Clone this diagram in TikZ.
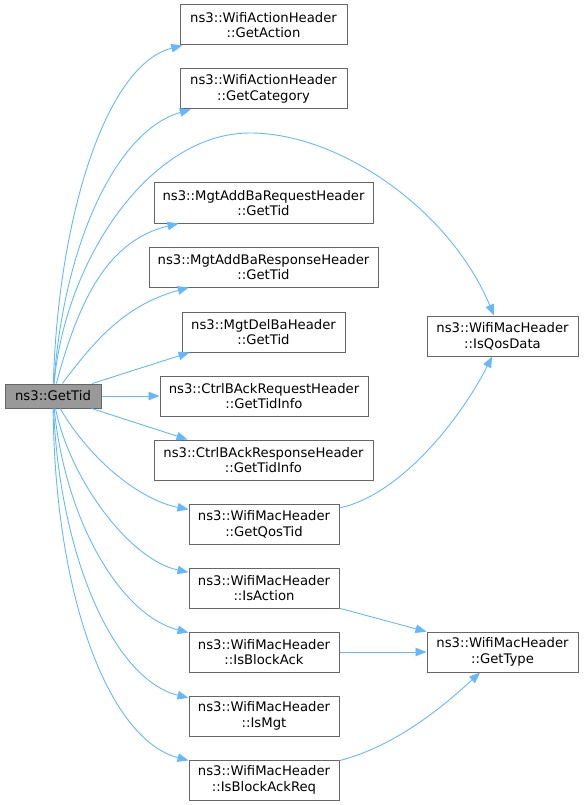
\documentclass[tikz,border=0pt]{standalone}
\usepackage{fontspec}
\setmainfont{DejaVu Sans}
\usetikzlibrary{arrows.meta}
\definecolor{callblue}{HTML}{63B8FF}
\definecolor{boxgray}{HTML}{666666}

\begin{document}
\begin{tikzpicture}[x=1pt,y=-1pt,
  font=\fontsize{13.2}{15.8}\selectfont,
  func/.style={draw=boxgray,line width=1pt,fill=white,align=center,
    inner sep=0pt,minimum height=40pt},
  root/.style={func,fill=black!40,minimum height=24pt},
  call/.style={draw=callblue,line width=.9pt,
    -{Triangle[length=11pt,width=8.5pt]}}]
 \useasboundingbox (0,0) rectangle (584,805);
 % callees of GetTid
 \node[root,minimum width=96pt] (tid) at (53,396) {ns3::GetTid};
 \node[func,minimum width=167pt] (act) at (263.5,25)
   {ns3::WifiActionHeader\\::GetAction};
 \node[func,minimum width=167pt] (cat) at (263.5,89)
   {ns3::WifiActionHeader\\::GetCategory};
 \node[func,minimum width=219pt] (req) at (263.5,203)
   {ns3::MgtAddBaRequestHeader\\::GetTid};
 \node[func,minimum width=229pt] (resp) at (263.5,267)
   {ns3::MgtAddBaResponseHeader\\::GetTid};
 \node[func,minimum width=163pt] (delba) at (263.5,332)
   {ns3::MgtDelBaHeader\\::GetTid};
 \node[func,minimum width=208pt] (bareq) at (264,396)
   {ns3::CtrlBAckRequestHeader\\::GetTidInfo};
 \node[func,minimum width=219pt] (baresp) at (263.5,460)
   {ns3::CtrlBAckResponseHeader\\::GetTidInfo};
 \foreach \nm/\fn/\yy in {qostid/GetQosTid/524,isact/IsAction/588,
   isba/IsBlockAck/652,ismgt/IsMgt/716,isbar/IsBlockAckReq/780}
   \node[func,minimum width=150pt] (\nm) at (264,\yy)
     {ns3::WifiMacHeader\\::\fn};
 \node[func,minimum width=151pt] (qosdata) at (502.5,336)
   {ns3::WifiMacHeader\\::IsQosData};
 \node[func,minimum width=151pt] (gettype) at (502.5,652)
   {ns3::WifiMacHeader\\::GetType};
 % edges
 \draw[call] (tid) .. controls (58,220) and (105,65) .. (act);
 \draw[call] (tid) .. controls (64,240) and (118,130) .. (cat);
 \draw[call] (tid) .. controls (65,260) and (150,133) .. (250,133)
   .. controls (340,133) and (450,210) .. (qosdata);
 \draw[call] (tid) .. controls (80,295) and (110,240) .. (req);
 \draw[call] (tid) .. controls (95,340) and (125,305) .. (resp);
 \draw[call] (tid) -- ([xshift=8pt]delba.south west);
 \draw[call] (tid) -- (bareq);
 \draw[call] (tid) -- ([xshift=34pt]baresp.north west);
 \draw[call] (tid) .. controls (90,460) and (140,500) .. (qostid);
 \draw[call] (tid) .. controls (70,480) and (130,560) .. (isact);
 \draw[call] (tid) .. controls (65,520) and (120,615) .. (isba);
 \draw[call] (tid) .. controls (60,560) and (115,680) .. (ismgt);
 \draw[call] (tid) .. controls (55,600) and (110,740) .. (isbar);
 \draw[call] (qostid) .. controls (400,495) and (460,420) .. (qosdata);
 \draw[call] (isact) -- (gettype);
 \draw[call] (isba) -- (gettype);
 \draw[call] (isbar) .. controls (400,745) and (450,700) .. (gettype);
\end{tikzpicture}
\end{document}
